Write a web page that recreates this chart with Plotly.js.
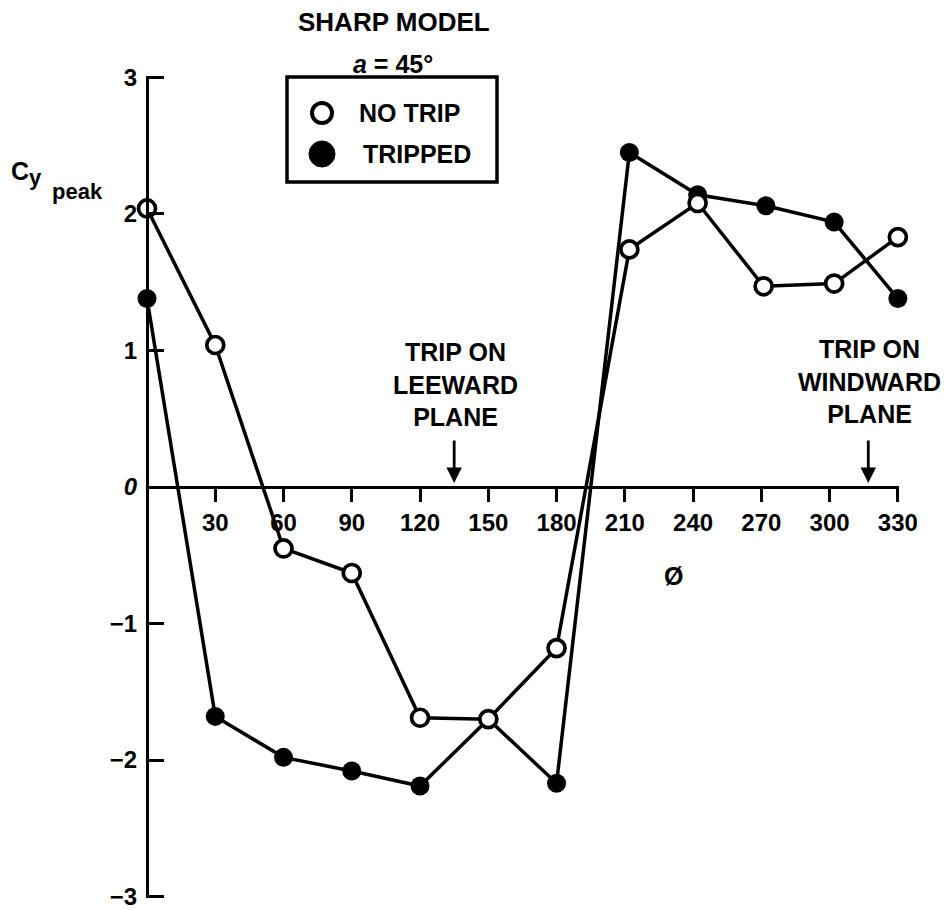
<!DOCTYPE html>
<html>
<head>
<meta charset="utf-8">
<script src="https://cdn.plot.ly/plotly-3.0.1.min.js"></script>
<style>
  html, body { margin: 0; padding: 0; background: #fff; }
  #chart { width: 952px; height: 910px; }
</style>
</head>
<body>
<div id="chart"></div>
<script>
// Side-force peak coefficient vs. roll angle, sharp-nosed model at 45 deg
const noTripPhi = [0, 30, 60, 90, 120, 150, 180, 212, 242, 271, 302, 330];
const noTripCy  = [2.04, 1.04, -0.45, -0.63, -1.69, -1.70, -1.18, 1.74, 2.08, 1.47, 1.49, 1.83];

const trippedPhi = [0, 30, 60, 90, 120, 150, 180, 212, 242, 272, 302, 330];
const trippedCy  = [1.38, -1.68, -1.98, -2.08, -2.19, -1.70, -2.17, 2.45, 2.14, 2.06, 1.94, 1.38];

const xTickVals = [30, 60, 90, 120, 150, 180, 210, 240, 270, 300, 330];
const yTickVals = [-3, -2, -1, 0, 1, 2, 3];
const yTickText = ['\u22123', '\u22122', '\u22121', '<i>0</i>', '1', '2', '3'];

// Trip-strip locations marked with arrows on the phi axis
const leewardTripPhi = 135;
const windwardTripPhi = 317;

const W = 952, H = 910;
const M = { l: 147, r: 53, t: 76, b: 12 };
const FONT = 'Liberation Sans, Arial, Helvetica, sans-serif';
const INK = '#000';

// pixel -> paper helpers for the free-standing labels
const plotW = W - M.l - M.r, plotH = H - M.t - M.b;
const px = x => (x - M.l) / plotW;
const py = y => (H - M.b - y) / plotH;

function label(text, x, y, size, anchor, extra) {
  return Object.assign({
    text: text, xref: 'paper', yref: 'paper', x: px(x), y: py(y),
    xanchor: anchor || 'center', yanchor: 'middle', showarrow: false,
    font: { family: FONT, size: size, color: INK, weight: 'bold' }
  }, extra || {});
}

function tripArrow(phi) {
  return {
    text: '', xref: 'x', yref: 'y', x: phi, y: 0.03,
    ax: 0, ay: -44, showarrow: true, arrowhead: 2, arrowsize: 1.1,
    arrowwidth: 2.8, arrowcolor: INK, standoff: 0
  };
}

const traces = [
  {
    x: trippedPhi, y: trippedCy, mode: 'lines+markers', name: 'TRIPPED',
    line: { color: INK, width: 3.5 },
    marker: { symbol: 'circle', size: 19, color: INK, line: { width: 0 } },
    cliponaxis: false, showlegend: false
  },
  {
    x: noTripPhi, y: noTripCy, mode: 'lines+markers', name: 'NO TRIP',
    line: { color: INK, width: 3.5 },
    marker: { symbol: 'circle', size: 17, color: '#fff', line: { color: INK, width: 3.7 } },
    cliponaxis: false, showlegend: false
  }
];

const annotations = [
  label('SHARP MODEL', 394, 22, 26),
  label('<i>a</i> = 45\u00B0', 393, 64, 25),
  label('NO TRIP', 357, 113, 25, 'left'),
  label('TRIPPED', 361, 154, 25, 'left'),
  label('C', 20, 171, 25),
  label('y', 35, 178, 22),
  label('peak', 77, 191, 22),
  label('\u00D8', 673, 576, 25),
  label('TRIP ON<br>LEEWARD<br>PLANE', 455, 384, 25),
  label('TRIP ON<br>WINDWARD<br>PLANE', 869, 381, 25),
  tripArrow(leewardTripPhi),
  tripArrow(windwardTripPhi)
];

// Legend frame and symbols
const shapes = [
  { type: 'rect', xref: 'paper', yref: 'paper',
    x0: px(287), x1: px(497), y0: py(77), y1: py(182),
    line: { color: INK, width: 3.5 }, fillcolor: 'rgba(0,0,0,0)' },
  { type: 'circle', xref: 'paper', yref: 'paper',
    x0: px(312), x1: px(332), y0: py(103), y1: py(123),
    line: { color: INK, width: 4 }, fillcolor: '#fff' },
  { type: 'circle', xref: 'paper', yref: 'paper',
    x0: px(309), x1: px(335), y0: py(141), y1: py(167),
    line: { color: INK, width: 1 }, fillcolor: INK }
];

const tickFont = { family: FONT, size: 24, color: INK, weight: 'bold' };

const layout = {
  width: W, height: H,
  margin: M,
  paper_bgcolor: '#fff', plot_bgcolor: '#fff',
  showlegend: false,
  font: { family: FONT, color: INK },
  xaxis: {
    range: [0, 330.5], anchor: 'free', position: 0.5,
    showline: true, linecolor: INK, linewidth: 3,
    showgrid: false, zeroline: false,
    ticks: 'outside', ticklen: 13, tickwidth: 3, tickcolor: INK,
    tickvals: xTickVals, ticktext: xTickVals.map(String),
    tickfont: tickFont
  },
  yaxis: {
    range: [-3.01, 3.01], anchor: 'free', position: 0,
    showline: true, linecolor: INK, linewidth: 3,
    showgrid: false, zeroline: false,
    ticks: 'inside', ticklen: 15, tickwidth: 3, tickcolor: INK,
    tickvals: yTickVals, ticktext: yTickText,
    ticklabelstandoff: 4, ticklabeloverflow: 'allow',
    tickfont: tickFont
  },
  annotations: annotations,
  shapes: shapes
};

Plotly.newPlot('chart', traces, layout, { staticPlot: true, displayModeBar: false });
</script>
</body>
</html>
